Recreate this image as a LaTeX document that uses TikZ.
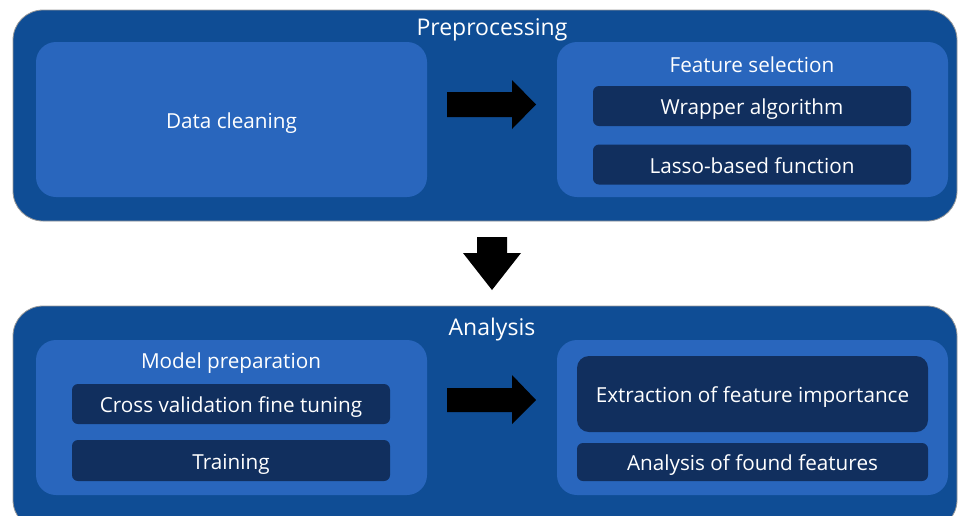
\documentclass[tikz,border=0pt]{standalone}
\usepackage{fontspec}
\setmainfont{Open Sans}
\definecolor{outerblue}{HTML}{0F4D95}
\definecolor{midblue}{HTML}{2966BD}
\definecolor{darkblue}{HTML}{112F5E}
\begin{document}
\begin{tikzpicture}[x=1pt,y=-1pt,
  every node/.style={text height=21pt, text depth=4pt},
  stage/.style={draw=gray!80, line width=0.8pt, fill=outerblue, rounded corners=30pt},
  group/.style={fill=midblue, rounded corners=20pt, inner sep=0pt, text=white, font=\fontsize{20.7}{24}\selectfont},
  task/.style={fill=darkblue, rounded corners=6pt, inner sep=0pt, text=white, font=\fontsize{20.7}{24}\selectfont},
  title/.style={text=white, inner sep=0pt, font=\fontsize{23}{27}\selectfont},
  blockarrow/.style={fill=black}]
\useasboundingbox (0,0) rectangle (959,515);
\begin{scope}
\clip (0,0) rectangle (959,515);
% preprocessing
\draw[stage] (13,10) rectangle (957,221);
\node[title] (pre) at (492,27) {Preprocessing};
\node[group, minimum width=391pt, minimum height=155pt] (clean) at (231.5,119.5) {Data cleaning};
\node[group, minimum width=391pt, minimum height=155pt] (fsel) at (752.5,119.5) {};
\node[title, font=\fontsize{20.7}{24}\selectfont] (fseltitle) at (752,64) {Feature selection};
\node[task, minimum width=318pt, minimum height=40pt] (wrap) at (752,106) {Wrapper algorithm};
\node[task, minimum width=318pt, minimum height=40pt] (lasso) at (752,164.5) {Lasso-based function};
\fill[blockarrow] (447,92) -- (512,92) -- (512,80) -- (536,104.5) -- (512,129) -- (512,117) -- (447,117) -- cycle;
% down
\fill[blockarrow] (477,237) -- (507,237) -- (507,253) -- (521,253) -- (492,290) -- (463,253) -- (477,253) -- cycle;
% analysis
\draw[stage] (13,306) rectangle (957,530);
\node[title] (ana) at (492,327) {Analysis};
\node[group, minimum width=391pt, minimum height=155pt] (model) at (231.5,417.5) {};
\node[title, font=\fontsize{20.7}{24}\selectfont] (modeltitle) at (231,360) {Model preparation};
\node[task, minimum width=318pt, minimum height=40pt] (cv) at (231,404) {Cross validation fine tuning};
\node[task, minimum width=318pt, minimum height=41pt] (train) at (231,460.5) {Training};
\node[group, minimum width=391pt, minimum height=155pt] (res) at (752.5,417.5) {};
\node[task, rounded corners=12pt, minimum width=351pt, minimum height=76pt] (imp) at (752.5,394) {Extraction of feature importance};
\node[task, minimum width=351pt, minimum height=38pt] (found) at (752.5,462) {Analysis of found features};
\fill[blockarrow] (447,388) -- (512,388) -- (512,375) -- (536,400) -- (512,424) -- (512,412) -- (447,412) -- cycle;
\end{scope}
\end{tikzpicture}
\end{document}
